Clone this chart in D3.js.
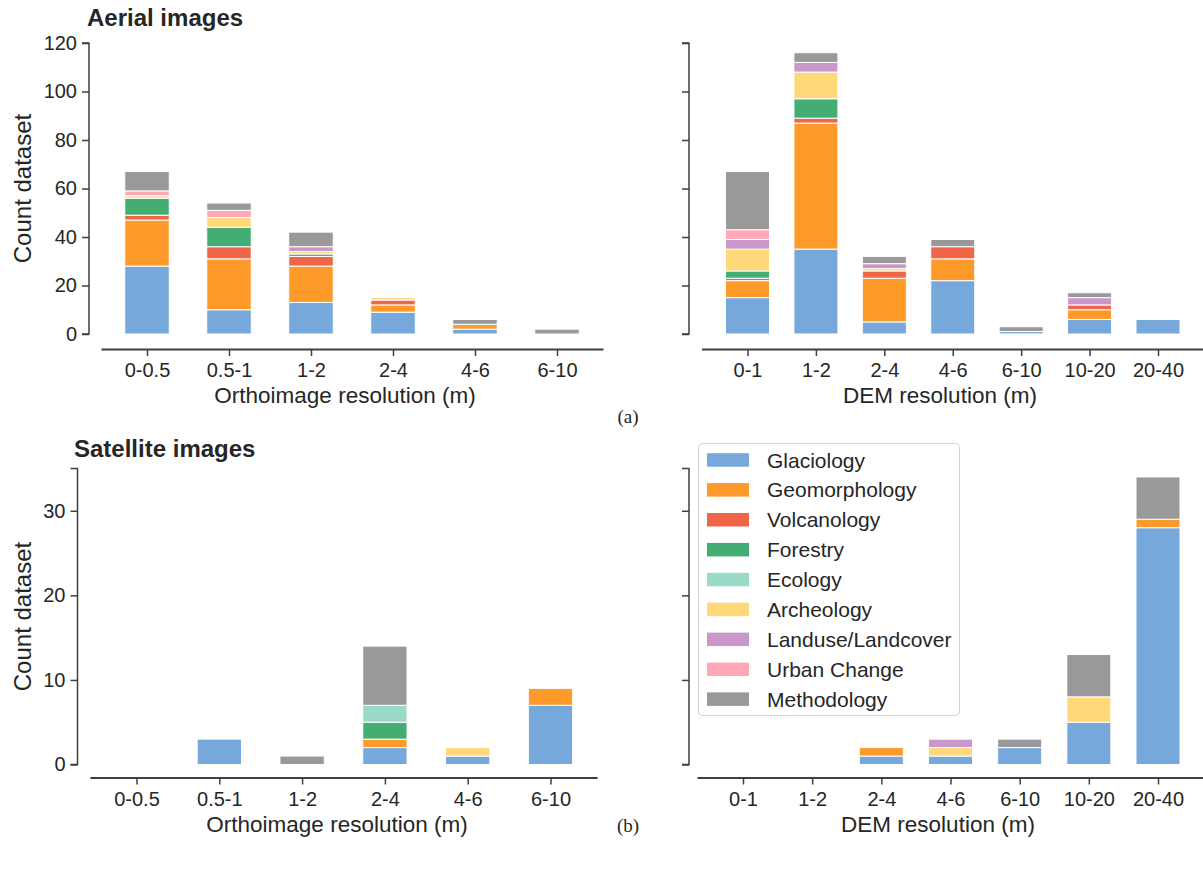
<!DOCTYPE html>
<html>
<head>
<meta charset="utf-8">
<script src="https://cdn.jsdelivr.net/npm/d3@7"></script>
<style>
  html, body { margin: 0; padding: 0; background: #fff; }
  svg { display: block; }
  text { font-family: "Liberation Sans", Arial, sans-serif; fill: #262626; }
</style>
</head>
<body>
<svg id="chart" width="1203" height="869"></svg>
<script>
// ---------- DATA ----------
const seriesNames = ["Glaciology", "Geomorphology", "Volcanology", "Forestry", "Ecology",
  "Archeology", "Landuse/Landcover", "Urban Change", "Methodology"];
const seriesColors = ["#76a8dc", "#fd9a2a", "#ee6548", "#43ad73", "#9bd9c8",
  "#ffd87a", "#c997c9", "#ffa8b8", "#999999"];

const orthoCategories = ["0-0.5", "0.5-1", "1-2", "2-4", "4-6", "6-10"];
const demCategories = ["0-1", "1-2", "2-4", "4-6", "6-10", "10-20", "20-40"];

const aerialYTicks = [0, 20, 40, 60, 80, 100, 120];
const satelliteYTicks = [0, 10, 20, 30];

// rows follow seriesNames order
const aerialOrtho = [
  [28, 10, 13, 9, 2, 0],
  [19, 21, 15, 3, 2, 0],
  [2, 5, 4, 2, 0, 0],
  [7, 8, 1, 0, 0, 0],
  [0, 0, 0, 0, 0, 0],
  [1, 4, 1, 1, 0, 0],
  [0, 0, 2, 0, 0, 0],
  [2, 3, 0, 0, 0, 0],
  [8, 3, 6, 0, 2, 2]
];
const aerialDem = [
  [15, 35, 5, 22, 1, 6, 6],
  [7, 52, 18, 9, 0, 4, 0],
  [1, 2, 3, 5, 0, 2, 0],
  [3, 8, 0, 0, 0, 0, 0],
  [0, 0, 0, 0, 0, 0, 0],
  [9, 11, 1, 0, 0, 0, 0],
  [4, 4, 2, 0, 0, 3, 0],
  [4, 0, 0, 0, 0, 0, 0],
  [24, 4, 3, 3, 2, 2, 0]
];
const satelliteOrtho = [
  [0, 3, 0, 2, 1, 7],
  [0, 0, 0, 1, 0, 2],
  [0, 0, 0, 0, 0, 0],
  [0, 0, 0, 2, 0, 0],
  [0, 0, 0, 2, 0, 0],
  [0, 0, 0, 0, 1, 0],
  [0, 0, 0, 0, 0, 0],
  [0, 0, 0, 0, 0, 0],
  [0, 0, 1, 7, 0, 0]
];
const satelliteDem = [
  [0, 0, 1, 1, 2, 5, 28],
  [0, 0, 1, 0, 0, 0, 1],
  [0, 0, 0, 0, 0, 0, 0],
  [0, 0, 0, 0, 0, 0, 0],
  [0, 0, 0, 0, 0, 0, 0],
  [0, 0, 0, 1, 0, 3, 0],
  [0, 0, 0, 1, 0, 0, 0],
  [0, 0, 0, 0, 0, 0, 0],
  [0, 0, 0, 0, 1, 5, 5]
];

// ---------- DRAWING ----------
const svg = d3.select("#chart");
const AXIS_COLOR = "#3f3f3f";
const TICK_FONT = 20;
const XLABEL_FONT = 22.5;
const YLABEL_FONT = 24;

function drawPanel(cfg) {
  const n = cfg.categories.length;
  const step = (cfg.x1 - cfg.x0 - 2 * cfg.outer) / (n - 1);
  const x = d3.scalePoint().domain(cfg.categories).range([cfg.x0, cfg.x1]).padding(cfg.outer / step);
  const y = d3.scaleLinear().domain([0, cfg.ymax]).range([cfg.yBottom, cfg.yTop]);

  const rows = cfg.categories.map((c, i) => {
    const r = { cat: c };
    seriesNames.forEach((s, k) => r[s] = cfg.values[k][i]);
    return r;
  });
  const stacked = d3.stack().keys(seriesNames)(rows);

  const g = svg.append("g");
  stacked.forEach((layer, k) => {
    g.append("g").attr("fill", seriesColors[k])
      .selectAll("rect")
      .data(layer.filter(d => d[1] - d[0] > 0))
      .join("rect")
      .attr("x", d => x(d.data.cat) - cfg.barWidth / 2)
      .attr("width", cfg.barWidth)
      .attr("y", d => y(d[1]))
      .attr("height", d => y(d[0]) - y(d[1]))
      .attr("stroke", "#fff")
      .attr("stroke-width", 1);
  });

  const ya = svg.append("g")
    .attr("transform", `translate(${cfg.yAxisX},0)`)
    .call(d3.axisLeft(y).tickValues(cfg.yTicks).tickSize(7).tickPadding(5)
      .tickFormat(cfg.showYLabels ? d3.format("d") : () => ""));
  ya.select(".domain").attr("stroke", AXIS_COLOR).attr("stroke-width", 1.5)
    .attr("d", `M-7,${y(cfg.ymax)}H0V${y(0)}H-7`);
  ya.selectAll(".tick line").attr("stroke", AXIS_COLOR).attr("stroke-width", 1.5);
  ya.selectAll(".tick text").attr("font-size", TICK_FONT).attr("fill", "#262626")
    .attr("font-family", "Liberation Sans, Arial, sans-serif");

  const xa = svg.append("g")
    .attr("transform", `translate(0,${cfg.spineY})`)
    .call(d3.axisBottom(x).tickSize(7).tickPadding(7).tickSizeOuter(0));
  xa.select(".domain").attr("stroke", AXIS_COLOR).attr("stroke-width", 2);
  xa.selectAll(".tick line").attr("stroke", AXIS_COLOR).attr("stroke-width", 1.5);
  xa.selectAll(".tick text").attr("font-size", TICK_FONT).attr("fill", "#262626")
    .attr("font-family", "Liberation Sans, Arial, sans-serif");

  svg.append("text")
    .attr("x", cfg.xLabelX).attr("y", cfg.xLabelY)
    .attr("text-anchor", "middle").attr("font-size", XLABEL_FONT)
    .text(cfg.xLabel);

  if (cfg.showYLabels) {
    const cy = (cfg.yTop + cfg.yBottom) / 2;
    svg.append("text")
      .attr("transform", `translate(${cfg.yLabelX},${cy}) rotate(-90)`)
      .attr("text-anchor", "middle").attr("font-size", YLABEL_FONT)
      .text("Count dataset");
  }
}

drawPanel({
  categories: orthoCategories, values: aerialOrtho, yTicks: aerialYTicks, ymax: 120,
  x0: 101, x1: 603, outer: 46, barWidth: 44.5,
  yAxisX: 89, yTop: 43, yBottom: 334, spineY: 349, showYLabels: true, yLabelX: 31,
  xLabel: "Orthoimage resolution (m)", xLabelX: 345, xLabelY: 403
});
drawPanel({
  categories: demCategories, values: aerialDem, yTicks: aerialYTicks, ymax: 120,
  x0: 701.5, x1: 1204, outer: 46, barWidth: 44,
  yAxisX: 689, yTop: 43, yBottom: 334, spineY: 349, showYLabels: false,
  xLabel: "DEM resolution (m)", xLabelX: 940, xLabelY: 403
});
drawPanel({
  categories: orthoCategories, values: satelliteOrtho, yTicks: satelliteYTicks, ymax: 35,
  x0: 90, x1: 597, outer: 46.5, barWidth: 44.3,
  yAxisX: 77.5, yTop: 468.5, yBottom: 764.5, spineY: 777.5, showYLabels: true, yLabelX: 31,
  xLabel: "Orthoimage resolution (m)", xLabelX: 337, xLabelY: 832
});
drawPanel({
  categories: demCategories, values: satelliteDem, yTicks: satelliteYTicks, ymax: 35,
  x0: 697, x1: 1204, outer: 46, barWidth: 44,
  yAxisX: 689, yTop: 468.5, yBottom: 764.5, spineY: 777.5, showYLabels: false,
  xLabel: "DEM resolution (m)", xLabelX: 938, xLabelY: 832
});

svg.append("text").attr("x", 87).attr("y", 26).attr("font-size", 24)
  .attr("font-weight", "bold").attr("fill", "#000").text("Aerial images");
svg.append("text").attr("x", 74).attr("y", 457).attr("font-size", 24)
  .attr("font-weight", "bold").attr("fill", "#000").text("Satellite images");

svg.append("text").attr("x", 628).attr("y", 423).attr("text-anchor", "middle")
  .attr("font-size", 19).style("font-family", "Liberation Serif, Times New Roman, serif")
  .attr("fill", "#000").text("(a)");
svg.append("text").attr("x", 628).attr("y", 832).attr("text-anchor", "middle")
  .attr("font-size", 19).style("font-family", "Liberation Serif, Times New Roman, serif")
  .attr("fill", "#000").text("(b)");

const lg = svg.append("g");
lg.append("rect").attr("x", 698.5).attr("y", 443.5).attr("width", 261).attr("height", 272)
  .attr("rx", 4).attr("fill", "#fff").attr("stroke", "#d0d0d0").attr("stroke-width", 1);
seriesNames.forEach((s, i) => {
  const cy = 460 + i * 29.9;
  lg.append("rect").attr("x", 707).attr("y", cy - 6.8).attr("width", 42).attr("height", 13.5)
    .attr("fill", seriesColors[i]);
  lg.append("text").attr("x", 767).attr("y", cy + 7.5).attr("font-size", 21).text(s);
});
</script>
</body>
</html>
